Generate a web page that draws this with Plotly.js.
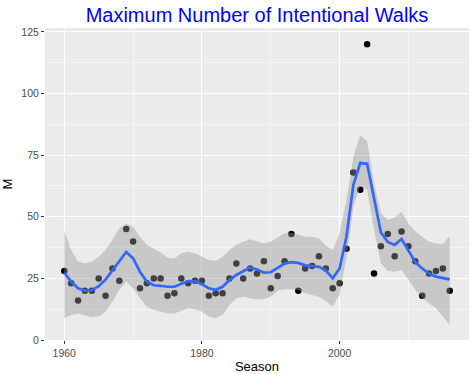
<!DOCTYPE html>
<html>
<head>
<meta charset="utf-8">
<script src="https://cdn.plot.ly/plotly-3.0.1.min.js"></script>
<style>html,body{margin:0;padding:0;background:#fff;}#chart{width:474px;height:374px;}</style>
</head>
<body>
<div id="chart"></div>
<script>
const seasons = [1960,1961,1962,1963,1964,1965,1966,1967,1968,1969,
  1970,1971,1972,1973,1974,1975,1976,1977,1978,1979,
  1980,1981,1982,1983,1984,1985,1986,1987,1988,1989,
  1990,1991,1992,1993,1994,1995,1996,1997,1998,1999,
  2000,2001,2002,2003,2004,2005,2006,2007,2008,2009,
  2010,2011,2012,2013,2014,2015,2016];
const maxIBB = [28,23,16,20,20,25,18,29,24,45,
  40,21,23,25,25,18,19,25,23,24,
  24,18,19,19,25,31,25,29,27,32,
  21,26,32,43,20,29,30,34,29,21,
  23,37,68,61,120,27,38,43,34,44,
  38,32,18,27,28,29,20];
const smoothFit = [27.3,23.7,21.0,20.0,20.2,21.8,24.5,28.2,32.3,35.7,
  33.1,27.7,23.7,22.2,22.0,21.6,21.6,22.9,23.9,23.8,
  22.6,21.0,20.4,21.6,24.3,26.4,28.0,29.4,28.6,27.3,
  27.5,29.1,31.0,31.6,31.3,30.3,30.0,29.7,28.3,25.0,
  29.0,42.0,63.0,71.8,71.5,56.8,43.6,39.8,38.6,41.0,
  36.5,31.6,29.0,27.0,25.7,25.0,24.6];
const bandUpper = [44.3,36.5,31.8,31.1,31.8,33.8,36.5,40.6,45.3,47.3,
  46.0,41.9,38.6,37.2,35.5,33.5,33.1,35.2,35.8,35.2,
  33.8,32.5,32.2,33.8,36.5,38.6,39.9,40.9,40.1,39.2,
  39.9,41.7,43.3,43.5,42.6,41.9,41.9,41.3,38.2,36.5,
  43.3,56.8,74.4,83.2,80.5,63.6,51.4,48.7,49.7,52.1,
  47.3,44.0,41.9,39.9,39.2,39.0,42.2];
const bandLower = [8.8,10.1,10.8,10.1,9.2,9.5,11.5,15.5,20.3,23.7,
  21.0,16.9,13.5,12.2,11.5,10.8,10.8,11.9,12.9,12.4,
  11.5,9.5,8.8,10.1,14.2,16.9,17.6,16.9,16.4,16.6,
  17.6,20.0,20.6,20.6,20.3,19.0,18.3,17.4,15.8,13.5,
  18.5,33.0,54.0,62.5,61.0,44.6,31.1,28.0,27.7,28.4,
  24.4,20.3,16.9,14.9,12.9,9.5,6.1];
const xTicks = [1960,1980,2000];
const xMinor = [1970,1990,2010];
const yTicks = [0,25,50,75,100,125];
const yMinor = [12.5,37.5,62.5,87.5,112.5];

const font = 'Liberation Sans, Arial, Helvetica, sans-serif';
const traces = [
  {x: seasons, y: maxIBB, type: 'scatter', mode: 'markers',
   marker: {color: 'black', size: 6.5}, hoverinfo: 'skip'},
  {x: seasons, y: bandLower, type: 'scatter', mode: 'lines',
   line: {width: 0, color: 'rgba(0,0,0,0)'}, hoverinfo: 'skip'},
  {x: seasons, y: bandUpper, type: 'scatter', mode: 'lines', fill: 'tonexty',
   fillcolor: 'rgba(153,153,153,0.42)', line: {width: 0, color: 'rgba(0,0,0,0)'}, hoverinfo: 'skip'},
  {x: seasons, y: smoothFit, type: 'scatter', mode: 'lines',
   line: {color: '#3366FF', width: 2.7}, hoverinfo: 'skip'}
];
const layout = {
  width: 474, height: 374,
  margin: {l: 45, r: 5, t: 28, b: 34, pad: 0},
  paper_bgcolor: 'white', plot_bgcolor: '#EBEBEB',
  showlegend: false, hovermode: false,
  font: {family: font, color: '#4D4D4D'},
  title: {text: 'Maximum Number of Intentional Walks', font: {family: font, size: 20, color: '#0000FF'},
          xref: 'paper', x: 0.5, xanchor: 'center', yref: 'container', y: 1 - 15/374, yanchor: 'middle'},
  xaxis: {range: [1957.2, 2018.8], tickvals: xTicks, ticktext: xTicks.map(String),
          ticks: 'outside', ticklen: 3, tickwidth: 1, tickcolor: '#333333',
          tickfont: {family: font, size: 10.5, color: '#4D4D4D'},
          showgrid: true, gridcolor: 'white', gridwidth: 1.1, zeroline: false, showline: false,
          minor: {tickvals: xMinor, showgrid: true, gridcolor: 'white', gridwidth: 0.5, ticks: ''},
          title: {text: 'Season', font: {family: font, size: 13, color: 'black'}, standoff: 4}},
  yaxis: {range: [0, 126.6], tickvals: yTicks, ticktext: yTicks.map(String),
          ticks: 'outside', ticklen: 3, tickwidth: 1, tickcolor: '#333333',
          tickfont: {family: font, size: 10.5, color: '#4D4D4D'},
          showgrid: true, gridcolor: 'white', gridwidth: 1.1, zeroline: false, showline: false,
          minor: {tickvals: yMinor, showgrid: true, gridcolor: 'white', gridwidth: 0.5, ticks: ''},
          title: {text: 'M', font: {family: font, size: 13, color: 'black'}, standoff: 7}}
};
Plotly.newPlot('chart', traces, layout, {displayModeBar: false, staticPlot: true});
</script>
</body>
</html>
